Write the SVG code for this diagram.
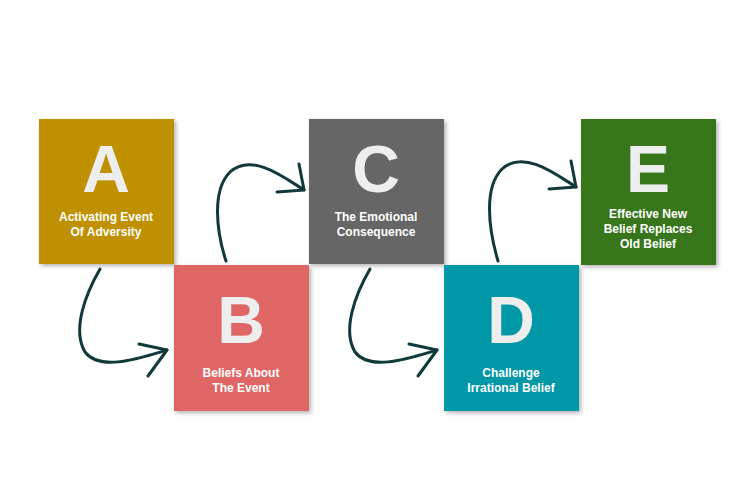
<svg xmlns="http://www.w3.org/2000/svg" width="750" height="500" viewBox="0 0 750 500">
<defs>
<filter id="sh" x="-10%" y="-10%" width="130%" height="130%"><feDropShadow dx="2" dy="2" stdDeviation="2" flood-opacity="0.3"/></filter>
<style>
.big{font-family:"Liberation Sans",Arial,sans-serif;font-weight:bold;font-size:66px;fill:#eeeeee;text-anchor:middle}
.lb{font-family:"Liberation Sans",Arial,sans-serif;font-weight:bold;font-size:12px;fill:#ffffff;text-anchor:middle}
.ar{fill:none;stroke:#10393b;stroke-width:3;stroke-linecap:round;stroke-linejoin:round}
</style>
</defs>
<rect width="750" height="500" fill="#ffffff"/>
<g id="A"><rect x="39" y="119" width="135" height="145" fill="#bf9000" filter="url(#sh)"/><text class="big" x="106" y="192">A</text><text class="lb" x="106" y="221">Activating Event</text><text class="lb" x="106" y="236">Of Adversity</text></g>
<g id="C"><rect x="309" y="119" width="135" height="145" fill="#666666" filter="url(#sh)"/><text class="big" x="376" y="192">C</text><text class="lb" x="376" y="221">The Emotional</text><text class="lb" x="376" y="236">Consequence</text></g>
<g id="E"><rect x="581" y="119" width="135" height="146" fill="#38761d" filter="url(#sh)"/><text class="big" x="648" y="192">E</text><text class="lb" x="648" y="218">Effective New</text><text class="lb" x="648" y="233">Belief Replaces</text><text class="lb" x="648" y="248">Old Belief</text></g>
<g id="B"><rect x="174" y="265" width="135" height="146" fill="#e06666" filter="url(#sh)"/><text class="big" x="241" y="343">B</text><text class="lb" x="241" y="377">Beliefs About</text><text class="lb" x="241" y="392">The Event</text></g>
<g id="D"><rect x="444" y="265" width="135" height="146" fill="#0097a7" filter="url(#sh)"/><text class="big" x="511" y="343">D</text><text class="lb" x="511" y="377">Challenge</text><text class="lb" x="511" y="392">Irrational Belief</text></g>
<g id="connectors">
<g id="ab"><path class="ar" d="M100,269 C85,295 72,330 85,352 C100,372 140,358 167,350"/><path class="ar" d="M139,344 L167,350 L148,376"/></g>
<g id="bc"><path class="ar" d="M226,261 C216,230 212,190 230,172 C252,152 285,178 304,190"/><path class="ar" d="M277,192 L304,190 L299,164"/></g>
<g transform="translate(270,0)"><path class="ar" d="M100,269 C85,295 72,330 85,352 C100,372 140,358 167,350"/><path class="ar" d="M139,344 L167,350 L148,376"/></g>
<g transform="translate(272,-3)"><path class="ar" d="M226,264 C216,230 212,190 230,172 C252,152 285,178 304,190"/><path class="ar" d="M277,192 L304,190 L299,164"/></g>
</g>
</svg>
